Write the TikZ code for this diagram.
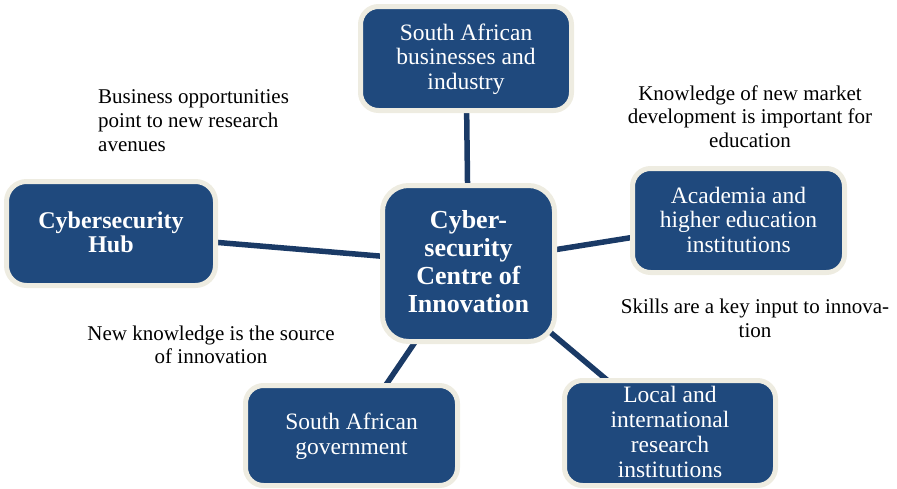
\documentclass[tikz,border=0pt]{standalone}
\usepackage{fontspec}
\setmainfont{Liberation Serif}
\usetikzlibrary{backgrounds}
\definecolor{boxblue}{RGB}{31,73,125}
\definecolor{boxrim}{RGB}{238,236,225}
\definecolor{linkblue}{RGB}{26,58,102}
\newcommand\topstrut{\rule{0pt}{18pt}}
\newcommand\botstrut{\rule[-4pt]{0pt}{4pt}}
\begin{document}
\begin{tikzpicture}[x=1pt,y=-1pt,
  actor/.style={draw=boxrim, line width=5pt, fill=boxblue, text=white,
    rounded corners=18pt, align=center, inner sep=0pt,
    font=\fontsize{23.5}{24.5}\selectfont},
  corebox/.style={actor, rounded corners=26pt, font=\bfseries\fontsize{26}{28}\selectfont},
  hubbox/.style={actor, rounded corners=20pt, font=\bfseries\fontsize{24}{24}\selectfont},
  note/.style={inner sep=0pt, font=\fontsize{21}{24}\selectfont},
  link/.style={draw=linkblue, line width=5.5pt}]
\useasboundingbox (0,0) rectangle (897,488);

\node[actor, minimum width=211pt, minimum height=104pt] (biz) at (466,58.5)
  {\topstrut South African\\businesses and\\industry\botstrut};
\node[corebox, minimum width=172pt, minimum height=156pt] (core) at (468.5,263.5)
  {\topstrut Cyber-\\security\\Centre of\\Innovation\botstrut};
\node[hubbox, minimum width=209pt, minimum height=104pt] (hub) at (111,233.5)
  {\topstrut Cybersecurity\\Hub\botstrut};
\node[actor, minimum width=212pt, minimum height=104pt] (acad) at (738.5,220.5)
  {\topstrut Academia and\\higher education\\institutions\botstrut};
\node[actor, minimum width=212pt, minimum height=100pt, font=\fontsize{23.5}{25}\selectfont] (gov) at (351.5,435.5)
  {\topstrut South African\\government\botstrut};
\node[actor, minimum width=211pt, minimum height=105pt, font=\fontsize{23.5}{24.7}\selectfont] (res) at (670,433)
  {\topstrut Local and\\international\\research\\institutions\botstrut};

\node[note, anchor=north west, align=left] (n1) at (98,85)
  {\topstrut Business opportunities\\point to new research\\avenues};
\node[note, anchor=north, align=center, font=\fontsize{21}{23.5}\selectfont] (n2) at (750,82)
  {\topstrut Knowledge of new market\\development is important for\\education};
\node[note, anchor=north, align=center, font=\fontsize{21}{24.5}\selectfont] (n3) at (755,295)
  {\topstrut Skills are a key input to innova-\\tion};
\node[note, anchor=north, align=center, font=\fontsize{21}{23}\selectfont] (n4) at (211,322)
  {\topstrut New knowledge is the source\\of innovation};

\begin{pgfonlayer}{background}
  \draw[link] (core.center) -- (biz.center);
  \draw[link] (core.center) -- (hub.center);
  \draw[link] (core.center) -- (acad.center);
  \draw[link] (core.center) -- (gov.center);
  \draw[link] (core.center) -- (res.center);
\end{pgfonlayer}
\end{tikzpicture}
\end{document}
